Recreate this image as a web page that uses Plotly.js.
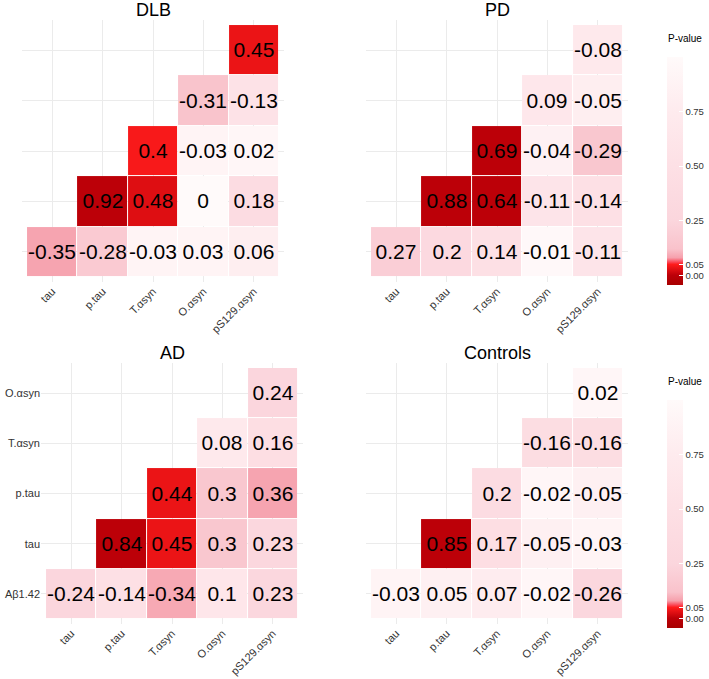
<!DOCTYPE html>
<html>
<head>
<meta charset="utf-8">
<script src="https://cdn.plot.ly/plotly-3.0.1.min.js"></script>
<style>html,body{margin:0;padding:0;background:#fff;}#chart{width:709px;height:679px;}</style>
</head>
<body>
<div id="chart"></div>
<script>
// Column (x) and row (y) categories
const xLabels = ["tau", "p.tau", "T.αsyn", "O.αsyn", "pS129.αsyn"];
const yLabels = ["Aβ1.42", "tau", "p.tau", "T.αsyn", "O.αsyn"];
const panelTitles = ["DLB", "PD", "AD", "Controls"];
const pTickVals = [0, 0.05, 0.25, 0.5, 0.75];
const pTickText = ["0.00", "0.05", "0.25", "0.50", "0.75"];

// Correlation coefficients (rows bottom->top: Aβ1.42, tau, p.tau, T.αsyn, O.αsyn)
const dlbR = [
  [-0.35, -0.28, -0.03, 0.03, 0.06],
  [null, 0.92, 0.48, 0, 0.18],
  [null, null, 0.4, -0.03, 0.02],
  [null, null, null, -0.31, -0.13],
  [null, null, null, null, 0.45]
];
const dlbP = [
  [0.085, 0.17, 0.9, 0.9, 0.8],
  [null, 0.0, 0.025, 1.0, 0.4],
  [null, null, 0.045, 0.9, 0.93],
  [null, null, null, 0.13, 0.55],
  [null, null, null, null, 0.035]
];
const pdR = [
  [0.27, 0.2, 0.14, -0.01, -0.11],
  [null, 0.88, 0.64, -0.11, -0.14],
  [null, null, 0.69, -0.04, -0.29],
  [null, null, null, 0.09, -0.05],
  [null, null, null, null, -0.08]
];
const pdP = [
  [0.2, 0.33, 0.5, 0.97, 0.6],
  [null, 0.0, 0.0, 0.6, 0.5],
  [null, null, 0.0, 0.85, 0.15],
  [null, null, null, 0.67, 0.8],
  [null, null, null, null, 0.7]
];
const adR = [
  [-0.24, -0.14, -0.34, 0.1, 0.23],
  [null, 0.84, 0.45, 0.3, 0.23],
  [null, null, 0.44, 0.3, 0.36],
  [null, null, null, 0.08, 0.16],
  [null, null, null, null, 0.24]
];
const adP = [
  [0.25, 0.5, 0.09, 0.63, 0.27],
  [null, 0.0, 0.035, 0.15, 0.27],
  [null, null, 0.035, 0.15, 0.085],
  [null, null, null, 0.7, 0.45],
  [null, null, null, null, 0.25]
];
const ctrlR = [
  [-0.03, 0.05, 0.07, -0.02, -0.26],
  [null, 0.85, 0.17, -0.05, -0.03],
  [null, null, 0.2, -0.02, -0.05],
  [null, null, null, -0.16, -0.16],
  [null, null, null, null, 0.02]
];
const ctrlP = [
  [0.9, 0.83, 0.77, 0.93, 0.27],
  [null, 0.0, 0.45, 0.83, 0.9],
  [null, null, 0.4, 0.93, 0.83],
  [null, null, null, 0.42, 0.42],
  [null, null, null, null, 0.93]
];

const CMIN = -0.045, CMAX = 1.0;
function t(p) { return (p - CMIN) / (CMAX - CMIN); }
const colorscale = [
  [0, "#a80000"],
  [t(0), "#bc0008"],
  [t(0.05), "#ff1c1c"],
  [t(0.06), "#fb4656"],
  [t(0.08), "#f6a0ac"],
  [t(0.12), "#f9c2cb"],
  [t(0.25), "#fbd6dd"],
  [t(0.5), "#fde0e5"],
  [t(0.75), "#feebee"],
  [1, "#fffafa"]
];

const W = 709, H = 679;
function px(x) { return x / W; }
function py(y) { return 1 - y / H; }

function mk(R, P, xa, ya, ca) {
  return {
    type: "heatmap", x: xLabels, y: yLabels, z: P,
    text: R.map(row => row.map(v => v === null ? "" : String(v))),
    texttemplate: "%{text}",
    textfont: { size: 21, color: "#000", family: "Liberation Sans, Arial, sans-serif" },
    coloraxis: ca, xaxis: xa, yaxis: ya, xgap: 1, ygap: 1, hoverinfo: "skip"
  };
}

const data = [
  mk(dlbR, dlbP, "x", "y", "coloraxis"),
  mk(pdR, pdP, "x2", "y2", "coloraxis"),
  mk(adR, adP, "x3", "y3", "coloraxis2"),
  mk(ctrlR, ctrlP, "x4", "y4", "coloraxis2")
];

function xax(d0, d1, anchor) {
  return {
    domain: [px(d0), px(d1)], anchor: anchor, type: "category", range: [-0.6, 4.6],
    showgrid: true, gridcolor: "#ebebeb", gridwidth: 1, zeroline: false, showline: false,
    ticks: "", tickangle: -45, tickfont: { size: 11, color: "#333" }, fixedrange: true
  };
}
function yax(d0, d1, anchor, show) {
  return {
    domain: [py(d1), py(d0)], anchor: anchor, type: "category", range: [-0.6, 4.6],
    showgrid: true, gridcolor: "#ebebeb", gridwidth: 1, zeroline: false, showline: false,
    ticks: "", showticklabels: show, tickfont: { size: 11, color: "#333" }, fixedrange: true
  };
}
function cax(yc) {
  return {
    cmin: CMIN, cmax: CMAX, colorscale: colorscale,
    colorbar: {
      x: px(667), xanchor: "left", xpad: 0, ypad: 0,
      y: py(yc), yanchor: "middle", len: 228, lenmode: "pixels", thickness: 16,
      outlinewidth: 0, tickvals: pTickVals, ticktext: pTickText,
      ticks: "inside", ticklen: 4, tickcolor: "#ffffff",
      tickfont: { size: 9.5, color: "#333" }
    }
  };
}

const titleFont = { size: 18, color: "#000", weight: "normal" };
const layout = {
  width: W, height: H, margin: { l: 0, r: 0, t: 0, b: 0 },
  paper_bgcolor: "#fff", plot_bgcolor: "#fff",
  font: { family: "Liberation Sans, Arial, sans-serif" },
  showlegend: false,
  xaxis: xax(22, 284, "y"), yaxis: yax(20, 282, "x", false),
  xaxis2: xax(366, 628, "y2"), yaxis2: yax(20, 282, "x2", false),
  xaxis3: xax(41, 303, "y3"), yaxis3: yax(363, 624, "x3", true),
  xaxis4: xax(366, 628, "y4"), yaxis4: yax(363, 624, "x4", false),
  coloraxis: cax(171),
  coloraxis2: cax(514),
  annotations: [
    { text: panelTitles[0], x: px(153), y: py(10), xref: "paper", yref: "paper", showarrow: false, font: titleFont, xanchor: "center", yanchor: "middle" },
    { text: panelTitles[1], x: px(497), y: py(10), xref: "paper", yref: "paper", showarrow: false, font: titleFont, xanchor: "center", yanchor: "middle" },
    { text: panelTitles[2], x: px(172), y: py(353), xref: "paper", yref: "paper", showarrow: false, font: titleFont, xanchor: "center", yanchor: "middle" },
    { text: panelTitles[3], x: px(497), y: py(353), xref: "paper", yref: "paper", showarrow: false, font: titleFont, xanchor: "center", yanchor: "middle" },
    { text: "P-value", x: px(666), y: py(38), xref: "paper", yref: "paper", showarrow: false, font: { size: 10, color: "#000" }, xanchor: "left", yanchor: "middle" },
    { text: "P-value", x: px(666), y: py(381), xref: "paper", yref: "paper", showarrow: false, font: { size: 10, color: "#000" }, xanchor: "left", yanchor: "middle" }
  ]
};

Plotly.newPlot("chart", data, layout, { staticPlot: true, displayModeBar: false });
</script>
</body>
</html>
